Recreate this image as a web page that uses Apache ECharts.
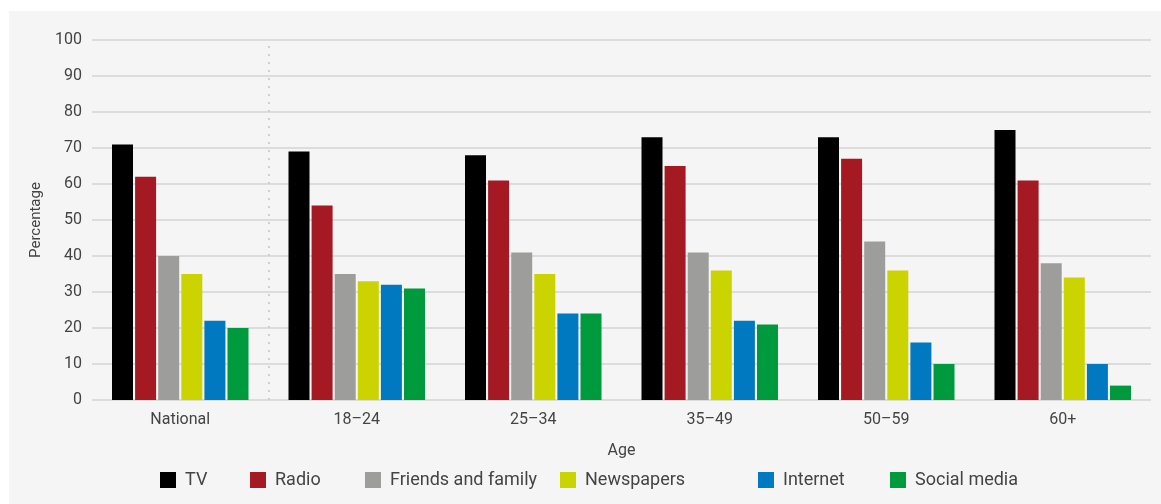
<!DOCTYPE html>
<html>
<head>
<meta charset="utf-8">
<script src="https://cdn.jsdelivr.net/npm/echarts@6/dist/echarts.min.js"></script>
<style>
  html, body { margin: 0; padding: 0; background: #ffffff; }
  #chart { width: 1161px; height: 504px; }
</style>
</head>
<body>
<div id="chart"></div>
<script>
// Age groups on the x axis
const categories = ['National', '18–24', '25–34', '35–49', '50–59', '60+'];

// Share of respondents using each source (%)
const tv          = [71, 69, 68, 73, 73, 75];
const radio       = [62, 54, 61, 65, 67, 61];
const friends     = [40, 35, 41, 41, 44, 38];
const newspapers  = [35, 33, 35, 36, 36, 34];
const internet    = [22, 32, 24, 22, 16, 10];
const socialMedia = [20, 31, 24, 21, 10, 4];

const seriesNames  = ['TV', 'Radio', 'Friends and family', 'Newspapers', 'Internet', 'Social media'];
const seriesData   = [tv, radio, friends, newspapers, internet, socialMedia];
const seriesColors = ['#000000', '#a51922', '#9d9d9b', '#cbd400', '#0079c1', '#009a3e'];

// Horizontal start of each legend entry
const legendLeft = [160, 250, 365, 560, 758, 890];

const FONT = '"Roboto", "Noto Sans", sans-serif';
const TEXT = '#444444';

const chart = echarts.init(document.getElementById('chart'), null, { renderer: 'canvas' });

const barSeries = seriesNames.map(function (name, i) {
  return {
    name: name,
    type: 'bar',
    data: seriesData[i],
    barWidth: 21,
    barGap: '10%',
    itemStyle: { color: seriesColors[i] },
    z: 3
  };
});

// dotted divider between the national figure and the age groups,
// placed on a hidden value axis spanning the category slots (0..6)
const dividerSeries = {
  name: 'divider',
  type: 'line',
  xAxisIndex: 1,
  data: [],
  silent: true,
  markLine: {
    silent: true,
    symbol: ['none', 'none'],
    label: { show: false },
    lineStyle: { color: '#cfcfcf', width: 2, type: [2, 6] },
    data: [{ xAxis: 1 }]
  }
};

chart.setOption({
  animation: false,
  backgroundColor: '#ffffff',
  textStyle: { fontFamily: FONT },
  graphic: [{
    type: 'rect',
    z: -10,
    silent: true,
    shape: { x: 9, y: 11, width: 1152, height: 493 },
    style: { fill: '#f5f5f5' }
  }],
  grid: { left: 92, right: 10, top: 40, bottom: 104 },
  legend: seriesNames.map(function (name, i) {
    return {
      left: legendLeft[i],
      top: 471,
      padding: 0,
      icon: 'rect',
      itemWidth: 16,
      itemHeight: 16,
      textStyle: { fontFamily: FONT, fontSize: 18, color: TEXT, padding: [0, 0, 0, 4] },
      data: [name]
    };
  }),
  xAxis: [{
    type: 'category',
    data: categories,
    name: 'Age',
    nameLocation: 'middle',
    nameGap: 43,
    nameTextStyle: { fontFamily: FONT, fontSize: 16, color: TEXT },
    axisLine: { show: false },
    axisTick: { show: false },
    axisLabel: { fontFamily: FONT, fontSize: 16, color: TEXT, margin: 12 },
    splitLine: { show: false }
  }, {
    type: 'value',
    min: 0,
    max: categories.length,
    show: false,
    splitLine: { show: false }
  }],
  yAxis: {
    type: 'value',
    min: 0,
    max: 100,
    interval: 10,
    name: 'Percentage',
    nameLocation: 'middle',
    nameGap: 45,
    nameTextStyle: { fontFamily: FONT, fontSize: 15, color: TEXT },
    axisLine: { show: false },
    axisTick: { show: false },
    axisLabel: { fontFamily: FONT, fontSize: 16, color: TEXT, margin: 10 },
    splitLine: { lineStyle: { color: '#dcdcdc', width: 2 } }
  },
  series: barSeries.concat([dividerSeries])
});
</script>
</body>
</html>
